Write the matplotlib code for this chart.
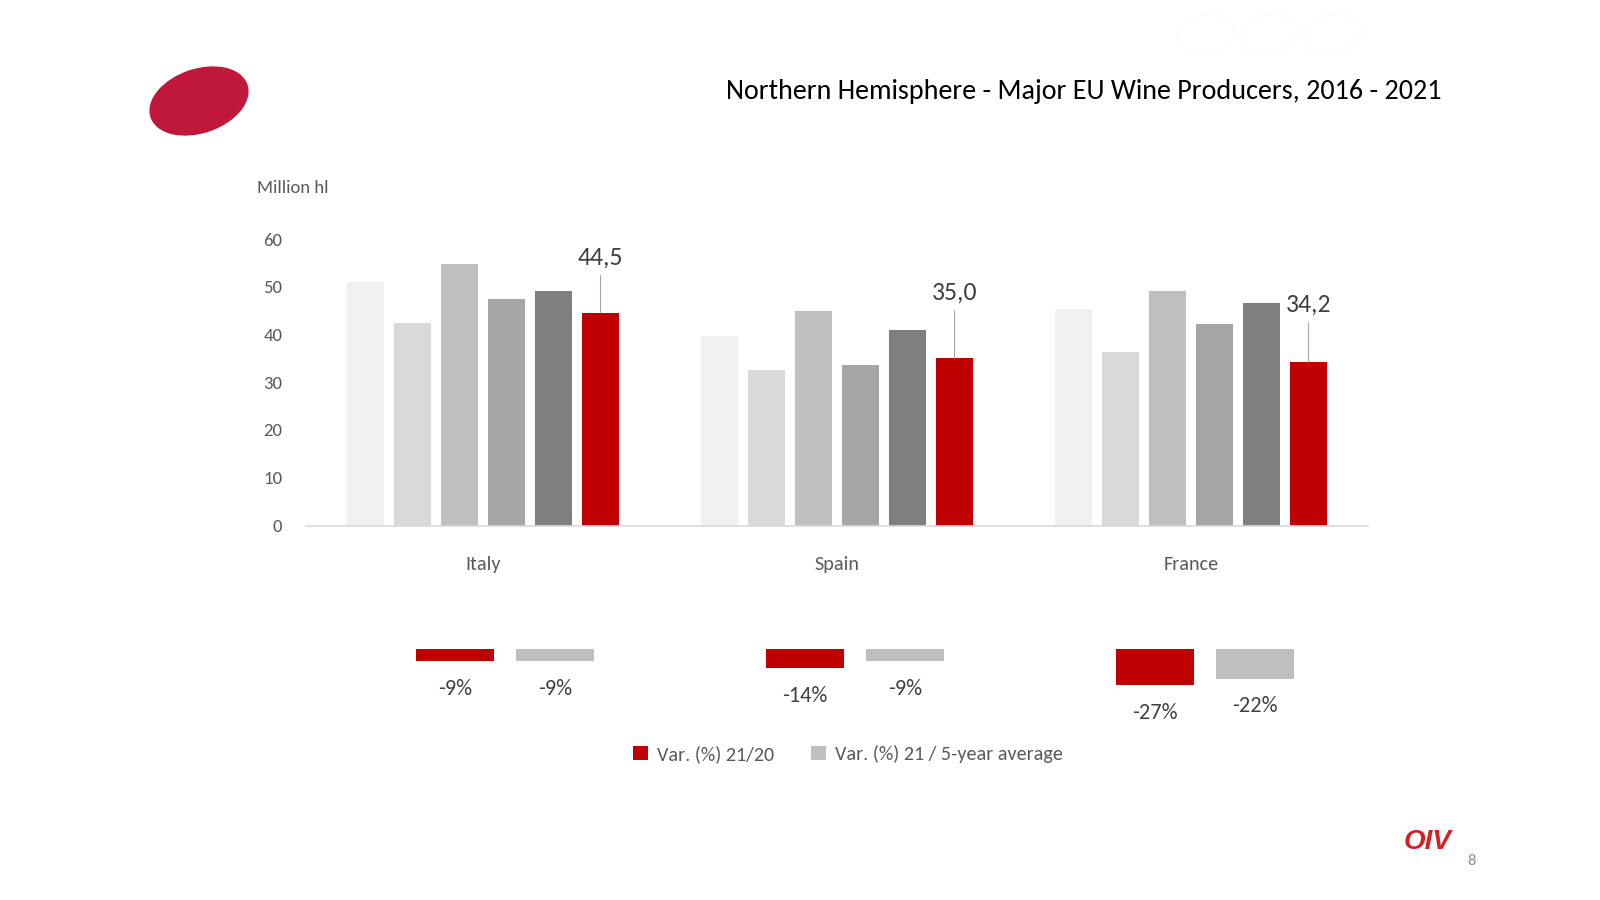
import matplotlib
matplotlib.use("Agg")
import matplotlib.pyplot as plt
from matplotlib import font_manager
from matplotlib.patches import Ellipse
import numpy as np

# ── data ────────────────────────────────────────────────────────────────────
countries = ["Italy", "Spain", "France"]
years = ["2016", "2017", "2018", "2019", "2020", "2021"]
italy = [50.9, 42.5, 54.8, 47.5, 49.1, 44.5]
spain = [39.7, 32.5, 44.9, 33.7, 40.9, 35.0]
france = [45.4, 36.4, 49.2, 42.2, 46.7, 34.2]
var_21_20 = [-9, -14, -27]
var_21_5yr = [-9, -9, -22]
legend_labels = ["Var. (%) 21/20", "Var. (%) 21 / 5-year average"]
title = "Northern Hemisphere - Major EU Wine Producers, 2016 - 2021"
unit_label = "Million hl"

# ── style ───────────────────────────────────────────────────────────────────
# Calibri look-alike if one is installed, otherwise a narrow sans
available = {f.name for f in font_manager.fontManager.ttflist}
base = next((n for n in ["Carlito", "Liberation Sans Narrow", "PT Sans Narrow",
                         "Archivo Narrow", "IBM Plex Sans Condensed"]
             if n in available), "DejaVu Sans")
FONT = [base, "DejaVu Sans"]
plt.rcParams["font.family"] = FONT

year_colors = ["#F0F0F0", "#D9D9D9", "#BFBFBF", "#A6A6A6", "#7F7F7F", "#C00000"]
RED = "#C00000"
GREY = "#BFBFBF"
TXT = "#595959"
DARK = "#404040"
label_offsets_px = [56, 66, 58]   # data label height above the 2021 bar

W, H = 1600, 900
fig = plt.figure(figsize=(16, 9), dpi=100)
fig.patch.set_facecolor("white")


def px_axes(left, top, right, bottom, **kw):
    return fig.add_axes([left / W, 1 - bottom / H, (right - left) / W,
                         (bottom - top) / H], **kw)


def fit_width(text, target_px):
    """Scale a text's font size so it spans target_px."""
    r = fig.canvas.get_renderer()
    w = text.get_window_extent(r).width
    text.set_fontsize(text.get_fontsize() * target_px / w)


# ── main bar chart ──────────────────────────────────────────────────────────
ax = px_axes(306, 239, 1368, 525.5)
values = np.array([italy, spain, france])        # country x year
x = np.arange(len(countries))
pitch, width = 0.1328, 0.107
for j, yr in enumerate(years):
    ax.bar(x + (j - 2.5) * pitch, values[:, j], width=width,
           color=year_colors[j], label=yr, zorder=2)

ax.set_xlim(-0.5, len(countries) - 0.5)
ax.set_ylim(0, 60)
ax.set_yticks(range(0, 61, 10))
ax.tick_params(axis="y", length=0, pad=17, labelsize=13.5, labelcolor=TXT)
ax.set_xticks(x)
ax.set_xticklabels(countries)
ax.tick_params(axis="x", length=0, pad=28, labelsize=14.5, labelcolor=TXT)
for lab in ax.get_xticklabels():
    lab.set_va("center")
for s in ("top", "right", "left"):
    ax.spines[s].set_visible(False)
ax.spines["bottom"].set_color("#D9D9D9")
ax.spines["bottom"].set_linewidth(1.2)
ax.set_facecolor("none")

# data labels for 2021 with leader lines
for i in range(len(countries)):
    v = values[i, -1]
    ax.annotate(f"{v:.1f}".replace(".", ","), xy=(x[i] + 2.5 * pitch, v),
                xytext=(0, label_offsets_px[i] * 0.72), textcoords="offset points",
                ha="center", va="center", fontsize=18.5, color=DARK,
                arrowprops=dict(arrowstyle="-", color="#A6A6A6", lw=0.8,
                                shrinkA=3, shrinkB=0))

# ── variation mini-bars ─────────────────────────────────────────────────────
ax2 = px_axes(330, 649, 1380, 689.5)
off, bw = 0.143, 0.223
b1 = ax2.bar(x - off, var_21_20, width=bw, color=RED, label=legend_labels[0])
b2 = ax2.bar(x + off, var_21_5yr, width=bw, color=GREY, label=legend_labels[1])
ax2.set_xlim(-0.5, len(countries) - 0.5)
ax2.set_ylim(-30, 0)
ax2.axis("off")
for bars, vals in ((b1, var_21_20), (b2, var_21_5yr)):
    for rect, v in zip(bars, vals):
        ax2.annotate(f"{v}%", xy=(rect.get_x() + rect.get_width() / 2, v),
                     xytext=(0, -20), textcoords="offset points",
                     ha="center", va="center", fontsize=16, color=DARK,
                     annotation_clip=False)

leg = fig.legend(handles=[b1, b2], loc="center",
                 bbox_to_anchor=(848 / W, 1 - 754 / H), ncol=2, frameon=False,
                 fontsize=14.5, handlelength=0.75, handleheight=0.75,
                 handletextpad=0.45, columnspacing=1.8)
for t in leg.get_texts():
    t.set_color(TXT)

# ── page decorations ────────────────────────────────────────────────────────
deco = fig.add_axes([0, 0, 1, 1], zorder=-1)
deco.set_xlim(0, W)
deco.set_ylim(H, 0)
deco.axis("off")
deco.add_patch(Ellipse((199, 101), 101, 63, angle=-18.7, color="#C0183A"))
# barely visible watermark in the top-right corner
for cx in (1206, 1269, 1333):
    deco.add_patch(Ellipse((cx, 34), 58, 38, angle=-10, fill=False,
                           edgecolor="#FAFAFA", lw=0.8))
ttl = deco.text(1442, 91, title, ha="right", va="center", fontsize=21,
                color="black")
fit_width(ttl, 717)
unit = deco.text(257, 188, unit_label, ha="left", va="center", fontsize=14,
                 color=TXT)
fit_width(unit, 72)
deco.text(1428, 842, "OIV", ha="center", va="center", fontsize=20,
          fontweight="bold", fontstyle="italic", color="#D42020",
          family=["Liberation Sans", "DejaVu Sans"])
deco.text(1472, 861, "8", ha="center", va="center", fontsize=12,
          color="#8C8C8C")

fig.savefig("out.png", dpi=100)
